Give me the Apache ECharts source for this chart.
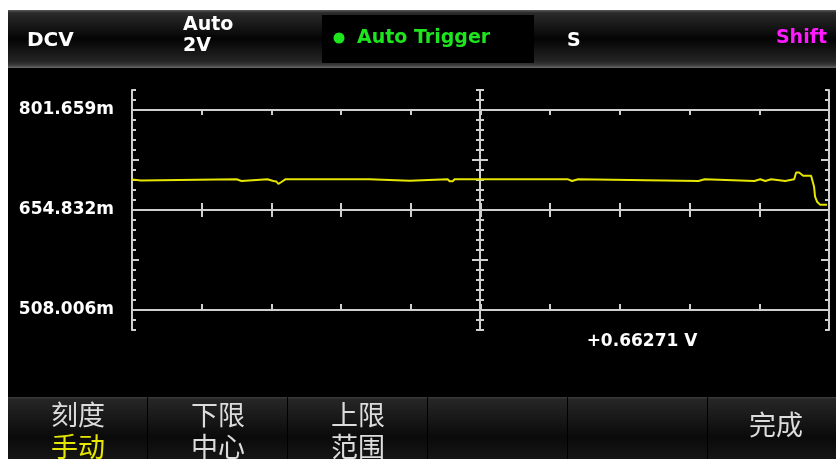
<!DOCTYPE html>
<html>
<head>
<meta charset="utf-8">
<script src="https://cdn.jsdelivr.net/npm/echarts@6/dist/echarts.min.js"></script>
<style>
  html, body { margin: 0; padding: 0; background: #ffffff; }
  #chart { width: 836px; height: 459px; }
</style>
</head>
<body>
<div id="chart"></div>
<script>
// Trend trace: sample index along the sweep and the DC voltage reading (mV)
const sampleIdx = [
  0, 2, 9, 11, 105, 107, 110, 112, 136, 138, 142, 144, 145, 147, 150, 154,
  218, 219, 221, 238, 240, 279, 281, 317, 319, 322, 324, 438, 439, 442, 443,
  448, 450, 569, 571, 575, 577, 625, 627, 631, 633, 636, 638, 642, 644, 656,
  658, 665, 667, 670, 672, 674, 682, 684, 685, 686, 688, 690, 691, 698
];
const readingMv = [
  699.62, 698.15, 698.15, 699.91, 699.91, 697.41, 697.41, 699.91, 699.91, 697.41, 697.41, 699.91, 696.68, 693.01, 695.94, 699.91,
  699.91, 698.15, 699.91, 699.91, 697.85, 697.85, 699.91, 699.91, 696.97, 696.97, 699.91, 699.91, 697.41, 697.41, 699.91,
  699.91, 697.41, 697.41, 699.91, 699.91, 697.41, 697.41, 699.91, 699.91, 697.41, 697.41, 699.91, 699.91, 697.41, 697.41,
  699.91, 699.91, 709.89, 709.89, 707.25, 705.19, 705.19, 702.85, 689.04, 674.36, 667.02, 667.02, 662.71, 662.71
];
const sweepLength = 700;

// Labelled levels of the vertical scale (mV) and their captions
const levelValues = [801.659, 654.832, 508.006];
const levelLabels = ['801.659m', '654.832m', '508.006m'];

// Status bar and softkey captions
const statusFunction = 'DCV';
const statusRange = ['Auto', '2V'];
const statusTrigger = 'Auto Trigger';
const statusRate = 'S';
const statusShift = 'Shift';
const softkeyTop = ['刻度', '下限', '上限', '', '', '完成'];
const softkeyBottom = ['手动', '中心', '范围', '', '', ''];

// Scale geometry: 24 minor divisions vertically, 10 divisions horizontally
const divMv = (levelValues[0] - levelValues[1]) / 10;
const yMin = levelValues[2] - 2 * divMv;
const yMax = levelValues[0] + 2 * divMv;
const vDivs = 24;
const hDivs = 10;
const halfDivTicks = [7, 17];

const GRID_COLOR = '#cfcfcf';
const TEXT_FONT = 'DejaVu Sans';
const CJK_FONT = 'Noto Sans CJK SC';

const plot = { left: 132, top: 90, width: 697, height: 240 };
const midX = 480;

function labelFor(div) {
  const mv = yMin + div * divMv;
  for (let i = 0; i < levelValues.length; i++) {
    if (Math.abs(levelValues[i] - mv) < divMv / 2) return levelLabels[i];
  }
  return '';
}

function hiddenAxis(gridIndex) {
  return { type: 'value', gridIndex, min: 0, max: 1, show: false };
}

function divYAxis(gridIndex, position, opts) {
  return Object.assign({
    type: 'value', gridIndex, position,
    min: 0, max: vDivs, interval: 1,
    axisLine: { show: true, lineStyle: { color: GRID_COLOR, width: 2 } },
    axisTick: { show: true, inside: true, length: 4, lineStyle: { color: GRID_COLOR, width: 2 } },
    axisLabel: { show: false },
    splitLine: { show: false }
  }, opts || {});
}

function longTickAxis(gridIndex, position, len) {
  return divYAxis(gridIndex, position, {
    axisLine: { show: false },
    axisTick: { show: true, inside: true, length: len, customValues: halfDivTicks, lineStyle: { color: GRID_COLOR, width: 2 } }
  });
}

function divXAxis(gridIndex, position, tickLen) {
  return {
    type: 'value', gridIndex, position,
    min: 0, max: hDivs, interval: 1,
    axisLine: { show: true, onZero: false, lineStyle: { color: GRID_COLOR, width: 2 } },
    axisTick: { show: true, inside: true, length: tickLen, lineStyle: { color: GRID_COLOR, width: 2 } },
    axisLabel: { show: false },
    splitLine: { show: false }
  };
}

const last = readingMv[readingMv.length - 1];
const readout = (last >= 0 ? '+' : '') + (last / 1000).toFixed(5) + ' V';

// Status bar and softkey panel drawn as graphic elements
const graphics = [];
graphics.push({
  type: 'rect', z: -100, silent: true,
  shape: { x: 8, y: 10, width: 828, height: 449 },
  style: { fill: '#000000' }
});
graphics.push({
  type: 'rect', z: 5, silent: true,
  shape: { x: 8, y: 10, width: 828, height: 58 },
  style: {
    fill: new echarts.graphic.LinearGradient(0, 0, 0, 1, [
      { offset: 0, color: '#5a5a5a' },
      { offset: 0.05, color: '#2a2a2a' },
      { offset: 0.5, color: '#040404' },
      { offset: 0.88, color: '#242424' },
      { offset: 0.95, color: '#3a3a3a' },
      { offset: 1, color: '#6a6a6a' }
    ])
  }
});
graphics.push({
  type: 'rect', z: 6, silent: true,
  shape: { x: 322, y: 15, width: 212, height: 48 },
  style: { fill: '#000000' }
});
graphics.push({
  type: 'text', z: 7, x: 27, y: 41,
  style: { text: statusFunction, fill: '#ffffff', font: 'bold 20px "' + TEXT_FONT + '"', verticalAlign: 'middle' }
});
graphics.push({
  type: 'text', z: 7, x: 183, y: 25,
  style: { text: statusRange[0], fill: '#ffffff', font: 'bold 19px "' + TEXT_FONT + '"', verticalAlign: 'middle' }
});
graphics.push({
  type: 'text', z: 7, x: 183, y: 46,
  style: { text: statusRange[1], fill: '#ffffff', font: 'bold 19px "' + TEXT_FONT + '"', verticalAlign: 'middle' }
});
graphics.push({
  type: 'circle', z: 7, shape: { cx: 339, cy: 38, r: 5.5 },
  style: { fill: '#1ee61e' }
});
graphics.push({
  type: 'text', z: 7, x: 357, y: 38,
  style: { text: statusTrigger, fill: '#1ee61e', font: 'bold 19px "' + TEXT_FONT + '"', verticalAlign: 'middle' }
});
graphics.push({
  type: 'text', z: 7, x: 567, y: 41,
  style: { text: statusRate, fill: '#ffffff', font: 'bold 19px "' + TEXT_FONT + '"', verticalAlign: 'middle' }
});
graphics.push({
  type: 'text', z: 7, x: 827, y: 38,
  style: { text: statusShift, fill: '#ff1aff', font: 'bold 19px "' + TEXT_FONT + '"', verticalAlign: 'middle', align: 'right' }
});

// Readout of the latest reading
graphics.push({
  type: 'text', z: 7, x: 642, y: 342,
  style: { text: readout, fill: '#ffffff', font: 'bold 17px "' + TEXT_FONT + '"', verticalAlign: 'middle', align: 'center' }
});

// Softkeys
const keyW = 140;
for (let i = 0; i < 6; i++) {
  const x0 = 8 + i * keyW;
  const w = i === 5 ? 836 - x0 : keyW - 1;
  graphics.push({
    type: 'rect', z: 5, silent: true,
    shape: { x: x0, y: 397, width: w, height: 62 },
    style: {
      fill: new echarts.graphic.LinearGradient(0, 0, 0, 1, [
        { offset: 0, color: '#3c3c3c' },
        { offset: 0.04, color: '#262626' },
        { offset: 0.3, color: '#1a1a1a' },
        { offset: 0.65, color: '#0a0a0a' },
        { offset: 1, color: '#161616' }
      ])
    }
  });
  const cx = x0 + 70;
  if (softkeyTop[i] && softkeyBottom[i]) {
    graphics.push({
      type: 'text', z: 7, x: cx, y: 415,
      style: { text: softkeyTop[i], fill: '#dcdcdc', font: '27px "' + CJK_FONT + '"', align: 'center', verticalAlign: 'middle' }
    });
    graphics.push({
      type: 'text', z: 7, x: cx, y: 447,
      style: { text: softkeyBottom[i], fill: i === 0 ? '#e6e600' : '#dcdcdc', font: '27px "' + CJK_FONT + '"', align: 'center', verticalAlign: 'middle' }
    });
  } else if (softkeyTop[i]) {
    graphics.push({
      type: 'text', z: 7, x: cx - 2, y: 425,
      style: { text: softkeyTop[i], fill: '#dcdcdc', font: '27px "' + CJK_FONT + '"', align: 'center', verticalAlign: 'middle' }
    });
  }
}

const chart = echarts.init(document.getElementById('chart'), null, { renderer: 'canvas' });
chart.setOption({
  backgroundColor: 'transparent',
  animation: false,
  grid: [
    // data area
    { left: plot.left, top: plot.top, width: plot.width, height: plot.height },
    // left half frame
    { left: plot.left, top: plot.top, width: midX - plot.left, height: plot.height },
    // right half frame
    { left: midX, top: plot.top, width: plot.left + plot.width - midX, height: plot.height },
    // upper band between first and second level
    { left: plot.left, top: 110, width: plot.width, height: 100 },
    // lower band between second and third level
    { left: plot.left, top: 210, width: plot.width, height: 100 }
  ],
  xAxis: [
    { type: 'value', gridIndex: 0, min: 0, max: sweepLength, show: false },
    hiddenAxis(1),
    hiddenAxis(2),
    divXAxis(3, 'top', 5),
    divXAxis(3, 'bottom', 7),
    divXAxis(4, 'top', 7),
    divXAxis(4, 'bottom', 6)
  ],
  yAxis: [
    { type: 'value', gridIndex: 0, min: yMin, max: yMax, show: false },
    divYAxis(1, 'left', {
      axisLabel: {
        show: true, margin: 18, color: '#ffffff', fontWeight: 'bold',
        fontSize: 17, fontFamily: TEXT_FONT, formatter: labelFor
      }
    }),
    longTickAxis(1, 'left', 7),
    divYAxis(1, 'right'),
    longTickAxis(1, 'right', 8),
    divYAxis(2, 'left'),
    longTickAxis(2, 'left', 8),
    divYAxis(2, 'right'),
    longTickAxis(2, 'right', 8),
    hiddenAxis(3),
    hiddenAxis(4)
  ],
  series: [{
    type: 'line',
    xAxisIndex: 0,
    yAxisIndex: 0,
    z: 10,
    showSymbol: false,
    silent: true,
    data: sampleIdx.map((s, i) => [s, readingMv[i]]),
    lineStyle: { color: '#e6e600', width: 2 }
  }],
  graphic: graphics
});
</script>
</body>
</html>
